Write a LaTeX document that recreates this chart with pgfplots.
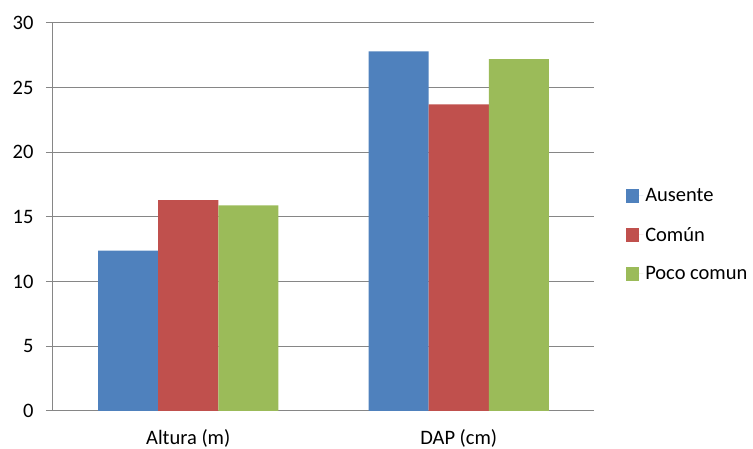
\documentclass[border=0pt]{standalone}
\usepackage{fontspec}
\setmainfont{Carlito}
\usepackage{pgfplots}
\pgfplotsset{compat=1.18}

\definecolor{ausente}{HTML}{4F81BD}
\definecolor{comun}{HTML}{C0504D}
\definecolor{poco}{HTML}{9BBB59}
\definecolor{gridgray}{RGB}{134,134,134}

\begin{document}
\begin{tikzpicture}[x=1pt,y=1pt]
\useasboundingbox (0,0) rectangle (753,449);
\begin{axis}[
  at={(53pt,38pt)}, anchor=south west,
  scale only axis,
  width=541pt, height=388pt,
  font=\fontsize{20.5}{24}\selectfont,
  /pgf/number format/assume math mode=true,
  ybar=0pt,
  bar width=0.2222,
  xmin=-0.5, xmax=1.5,
  ymin=0, ymax=30,
  ytick={0,5,...,30},
  xtick={0,1},
  xticklabels={Altura (m), DAP (cm)},
  extra x ticks={-0.5,0.5,1.5},
  extra x tick labels={},
  extra x tick style={major tick length=7pt, tick style={gridgray, line width=1pt}},
  major x tick style={draw=none},
  tick align=outside,
  major tick length=7pt,
  tick style={gridgray, line width=1pt},
  axis x line*=bottom,
  axis y line*=left,
  axis line style={gridgray, line width=1pt, -},
  ymajorgrids,
  grid style={gridgray, line width=1pt},
  yticklabel style={xshift=-9pt},
  xticklabel style={yshift=-8pt},
  legend style={at={(1.0537,0.454)}, anchor=west, draw=none, fill=none,
    row sep=20pt, font=\fontsize{20.5}{24}\selectfont,
    legend cell align=left},
  legend image code/.code={\fill[#1] (0pt,-7pt) rectangle (13pt,7pt);
    \path (0pt,0pt) -- (17pt,0pt);},
]
\addplot[fill=ausente, draw=none] coordinates {(0,12.4) (1,27.8)};
\addplot[fill=comun, draw=none] coordinates {(0,16.3) (1,23.7)};
\addplot[fill=poco, draw=none] coordinates {(0,15.9) (1,27.2)};
\legend{Ausente, Común, Poco comun}
\end{axis}
\end{tikzpicture}
\end{document}
